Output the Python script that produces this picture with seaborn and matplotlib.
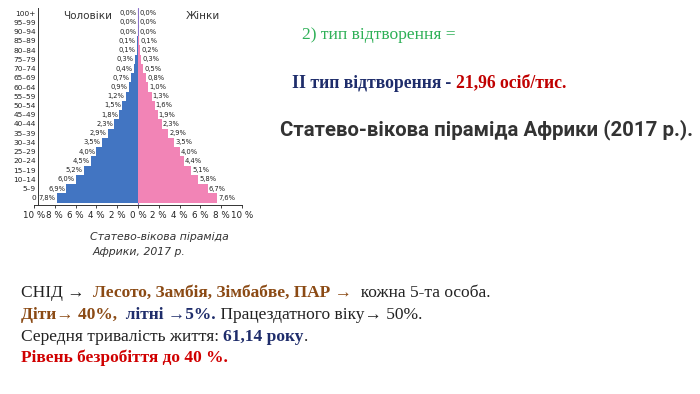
import matplotlib
matplotlib.use("Agg")
import matplotlib.pyplot as plt
import seaborn as sns
import pandas as pd
import numpy as np
from matplotlib.ticker import FixedLocator, FuncFormatter

ages = ["0", "5–9", "10–14", "15–19", "20–24", "25–29", "30–34", "35–39",
        "40–44", "45–49", "50–54", "55–59", "60–64", "65–69", "70–74",
        "75–79", "80–84", "85–89", "90–94", "95–99", "100+"]
male = [7.8, 6.9, 6.0, 5.2, 4.5, 4.0, 3.5, 2.9, 2.3, 1.8, 1.5, 1.2, 0.9,
        0.7, 0.4, 0.3, 0.1, 0.1, 0.0, 0.0, 0.0]
female = [7.6, 6.7, 5.8, 5.1, 4.4, 4.0, 3.5, 2.9, 2.3, 1.9, 1.6, 1.3, 1.0,
          0.8, 0.5, 0.3, 0.2, 0.1, 0.0, 0.0, 0.0]
xticks = [-10, -8, -6, -4, -2, 0, 2, 4, 6, 8, 10]

BLUE = "#4275c2"
PINK = "#f284b6"
NARROW = ["Liberation Sans Narrow", "DejaVu Sans"]
SERIF = ["Liberation Serif", "DejaVu Serif"]

sns.set_style("white")
plt.rcParams["font.family"] = ["DejaVu Sans"]

fig = plt.figure(figsize=(7, 3.94), dpi=100)
ax = fig.add_axes([34 / 700, 1 - 205 / 394, 208 / 700, 196.6 / 394])

df = pd.DataFrame({"age": ages, "male": [-v for v in male], "female": female})
order = ages[::-1]
sns.barplot(data=df, x="male", y="age", order=order, orient="h", color=BLUE,
            width=1.0, saturation=1, ax=ax, linewidth=0)
sns.barplot(data=df, x="female", y="age", order=order, orient="h", color=PINK,
            width=1.0, saturation=1, ax=ax, linewidth=0)

ax.set_xlim(-10, 10)
ax.set_ylim(20.76, -0.5)
ax.set_xlabel("")
ax.set_ylabel("")
ax.xaxis.set_major_locator(FixedLocator(xticks))
ax.xaxis.set_major_formatter(FuncFormatter(lambda v, p: f"{abs(int(round(v)))} %"))
ax.tick_params(axis="x", length=2.5, width=0.6, pad=1.5, labelsize=6.3,
               direction="out", bottom=True, colors="#222222")
ax.tick_params(axis="y", length=0, pad=1.2, labelsize=5.3, colors="#222222")
for lab in ax.get_xticklabels() + ax.get_yticklabels():
    lab.set_family(NARROW)
for s in ["top", "right"]:
    ax.spines[s].set_visible(False)
ax.spines["left"].set_position(("data", -9.65))
for s in ["left", "bottom"]:
    ax.spines[s].set_linewidth(0.7)
    ax.spines[s].set_color("#333333")
ax.axvline(0, color="#8a70c8", lw=0.8, zorder=0.5)

for i, a in enumerate(order):
    k = ages.index(a)
    m, f = male[k], female[k]
    ax.text(-m - 0.1, i, f"{m:.1f}%".replace(".", ","), ha="right", va="center",
            fontsize=4.9, family=NARROW, color="#222222",
            bbox=dict(facecolor="white", edgecolor="none", pad=0.15))
    ax.text(f + 0.1, i, f"{f:.1f}%".replace(".", ","), ha="left", va="center",
            fontsize=4.9, family=NARROW, color="#222222",
            bbox=dict(facecolor="white", edgecolor="none", pad=0.15))

fig.text(63 / 700, 1 - 16 / 394, "Чоловіки", fontsize=7.5, color="#333333",
         va="center", ha="left")
fig.text(186 / 700, 1 - 16 / 394, "Жінки", fontsize=7.5, color="#333333",
         va="center", ha="left")

fig.text(90 / 700, 1 - 237 / 394, "Статево-вікова піраміда", fontsize=7.8,
         style="italic", color="#333333", va="center", ha="left")
fig.text(93 / 700, 1 - 252 / 394, "Африки, 2017 р.", fontsize=7.8,
         style="italic", color="#333333", va="center", ha="left")

# right-side text
fig.text(302 / 700, 1 - 35 / 394, "2) тип відтворення =", fontsize=12.6,
         family=SERIF, color="#2eb057", va="center", ha="left")

renderer = fig.canvas.get_renderer()


def line(x_px, y_px, pieces, size):
    x = x_px
    for txt, color, weight in pieces:
        t = fig.text(x / 700, 1 - y_px / 394, txt, fontsize=size, family=SERIF,
                     color=color, weight=weight, va="center", ha="left")
        bb = t.get_window_extent(renderer=renderer)
        x += bb.width


NAVY = "#1f2d6b"
RED = "#c00000"
BROWN = "#8b4a14"
DARK = "#222222"

line(292, 83, [("II тип відтворення", NAVY, "bold"), (" - ", NAVY, "bold"),
               ("21,96 осіб/тис.", RED, "bold")], 12.7)

fig.text(280 / 700, 1 - 130 / 394, "Статево-вікова піраміда Африки (2017 р.).",
         fontsize=14.7, family=["Roboto", "DejaVu Sans"], weight="bold",
         color="#333333", va="center", ha="left")

BS = 12.5
line(21, 293, [("СНІД →  ", DARK, "normal"),
               ("Лесото, Замбія, Зімбабве, ПАР →", BROWN, "bold"),
               ("  кожна 5-та особа.", DARK, "normal")], BS)
line(21, 315, [("Діти→ 40%,", BROWN, "bold"), ("  літні →5%.", NAVY, "bold"),
               (" Працездатного віку→ 50%.", DARK, "normal")], BS)
line(21, 337, [("Середня тривалість життя: ", DARK, "normal"),
               ("61,14 року", NAVY, "bold"), (".", DARK, "normal")], BS)
line(21, 358, [("Рівень безробіття до 40 %.", "#d00000", "bold")], BS)

fig.savefig("out.png", dpi=100)
